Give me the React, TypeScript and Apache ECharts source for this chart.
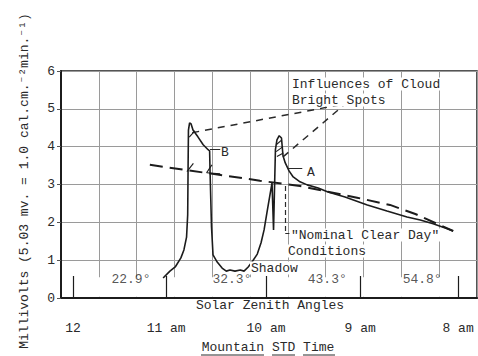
import React, { useEffect, useRef } from "react";
import * as echarts from "echarts";

// ---- axis / tick data ----
const yMin = 0;
const yMax = 6;
const xMin = 0;
const xMax = 11;
const hourLabels = ["12", "11 am", "10 am", "9 am", "8 am"];
const hourPos = [0.32, 2.78, 5.42, 7.91, 10.5];
const zenithLabels = ["22.9°", "32.3°", "43.3°", "54.8°"];
const zenithPos = [1.85, 4.52, 7.04, 9.55];
const zenithLabelY = 0.48;
const labelStripTop = 0.55;

// ---- recorded radiation trace (x in grid units, y in millivolts) ----
const traceX = [
  2.7, 2.88, 3.02, 3.17, 3.25, 3.32, 3.35, 3.36, 3.37, 3.4, 3.44, 3.49, 3.62, 3.76, 3.89, 3.93,
  3.94, 3.98, 4.02, 4.13, 4.26, 4.37, 4.47, 4.6, 4.74, 4.84, 4.95, 5.05, 5.19, 5.29, 5.37, 5.45,
  5.53, 5.58, 5.62, 5.67, 5.71, 5.77, 5.83, 5.87, 5.93, 6.03, 6.14, 6.32, 6.51, 6.8, 7.06, 7.51,
  8.1, 8.62, 9.15, 9.5, 9.84, 10.16, 10.37,
];
const traceY = [
  0.53, 0.71, 0.82, 1.06, 1.27, 1.61, 2.2, 3.39, 4.44, 4.63, 4.6, 4.44, 4.26, 4.05, 3.92, 3.89,
  3.39, 1.88, 1.14, 0.95, 0.79, 0.71, 0.74, 0.71, 0.74, 0.71, 0.82, 0.95, 1.16, 1.46, 1.8, 2.28,
  2.75, 3.04, 1.8, 3.92, 4.18, 4.29, 4.23, 3.76, 3.57, 3.36, 3.2, 3.07, 2.99, 2.91, 2.8, 2.67,
  2.46, 2.3, 2.14, 2.06, 1.96, 1.85, 1.77,
];

// ---- "nominal clear day" reference line ----
const clearX = [2.35, 3.81, 5.26, 6.32, 7.83, 8.7, 9.37, 10.37];
const clearY = [3.52, 3.31, 3.1, 2.96, 2.65, 2.46, 2.22, 1.77];

// ---- pointer lines to "Influences of Cloud Bright Spots" ----
const pointerB = [[3.47, 4.37], [7.51, 5.13]];
const pointerA = [[5.87, 3.73], [7.46, 5.08]];

// ---- leader ticks, hatching and nominal pointer ----
const leaderB = [[3.94, 3.94], [4.21, 3.94]];
const leaderA = [[6.01, 3.44], [6.38, 3.44]];
const nominalPointer = [[5.93, 2.96], [5.93, 1.72]];
const nominalHook = [[5.93, 1.72], [6.04, 1.72]];
const hatchSegments = [
  [[5.69, 4.05], [5.84, 4.18]],
  [[5.69, 3.87], [5.87, 4.0]],
  [[5.71, 3.74], [5.88, 3.83]],
  [[3.39, 4.25], [3.54, 4.42]],
  [[3.33, 3.34], [3.5, 3.56]],
  [[3.85, 3.31], [3.99, 3.52]],
  [[3.85, 3.31], [4.21, 3.28]],
];

const FONT = '"Liberation Mono", "Courier New", monospace';
const INK = "#1c1c1c";
const TEXT = "#2a2a2a";
const GRID = "#9a9a9a";

export default function App() {
  const ref = useRef<HTMLDivElement>(null);

  useEffect(() => {
    document.body.style.margin = "0";
    if (!ref.current) return;
    const chart = echarts.init(ref.current, undefined, { renderer: "svg" });

    const txt = (
      text: string,
      x: number,
      y: number,
      align: string = "left",
      bg: boolean = true,
      extra: any = {}
    ) => ({
      type: "text",
      x,
      y,
      z: 20,
      ...extra,
      style: {
        text,
        font: `13px ${FONT}`,
        fill: TEXT,
        align,
        verticalAlign: "middle",
        backgroundColor: bg ? "#ffffff" : undefined,
        padding: bg ? [0, 1] : 0,
      },
    });
    const uline = (x1: number, x2: number, y: number) => ({
      type: "line",
      z: 20,
      shape: { x1, y1: y, x2, y2: y },
      style: { stroke: TEXT, lineWidth: 1 },
    });

    const segSeries = (name: string, segs: number[][][], style: any, z = 4) => ({
      name,
      type: "lines",
      coordinateSystem: "cartesian2d",
      xAxisIndex: 0,
      yAxisIndex: 0,
      z,
      silent: true,
      lineStyle: style,
      data: segs.map((c) => ({ coords: c })),
    });

    chart.setOption({
      animation: false,
      backgroundColor: "#ffffff",
      grid: {
        left: 61,
        top: 71,
        right: 1,
        bottom: 58,
        show: true,
        borderColor: INK,
        borderWidth: 1.5,
        backgroundColor: "transparent",
      },
      xAxis: [
        {
          type: "value",
          min: xMin,
          max: xMax,
          interval: 1,
          z: 0,
          axisLine: { show: false },
          axisTick: { show: false },
          axisLabel: { show: false },
          splitLine: { show: true, lineStyle: { color: GRID, width: 1 } },
        },
        {
          type: "value",
          position: "bottom",
          min: xMin,
          max: xMax,
          z: 3,
          axisLine: { show: true, lineStyle: { color: INK, width: 2 } },
          axisTick: {
            show: true,
            inside: true,
            length: 22,
            customValues: hourPos,
            lineStyle: { color: INK, width: 1.2 },
          },
          axisLabel: {
            show: true,
            customValues: hourPos,
            margin: 24,
            fontFamily: FONT,
            fontSize: 13,
            color: TEXT,
            formatter: (v: number) => {
              const i = hourPos.findIndex((p) => Math.abs(p - v) < 1e-6);
              return i >= 0 ? hourLabels[i] : "";
            },
          },
          splitLine: { show: false },
        },
      ],
      yAxis: {
        type: "value",
        min: yMin,
        max: yMax,
        interval: 1,
        z: 3,
        axisLine: { show: true, lineStyle: { color: INK, width: 2 } },
        axisTick: { show: true, length: 4, lineStyle: { color: "#555" } },
        axisLabel: { fontFamily: FONT, fontSize: 13, color: TEXT, margin: 6 },
        splitLine: { show: true, lineStyle: { color: GRID, width: 1 } },
      },
      series: [
        {
          name: "strip",
          type: "line",
          data: [],
          z: 1,
          silent: true,
          markArea: {
            silent: true,
            itemStyle: { color: "#ffffff", opacity: 1 },
            data: [[{ coord: [xMin, yMin + 0.03] }, { coord: [xMax - 0.04, labelStripTop] }]],
          },
        },
        {
          name: "Nominal clear day",
          type: "line",
          z: 3,
          symbol: "none",
          data: clearX.map((x, i) => [x, clearY[i]]),
          lineStyle: { color: INK, width: 2, type: [13, 7] },
        },
        {
          name: "Recorded trace",
          type: "line",
          z: 4,
          symbol: "none",
          data: traceX.map((x, i) => [x, traceY[i]]),
          lineStyle: { color: INK, width: 1.6 },
        },
        segSeries("Bright spot pointers", [pointerB, pointerA], { color: "#2a2a2a", width: 1.5, type: [7, 6], opacity: 1 }),
        segSeries("Leaders", [leaderB, leaderA, nominalHook], { color: "#2a2a2a", width: 1.2, opacity: 1 }),
        segSeries("Nominal pointer", [nominalPointer], { color: "#2a2a2a", width: 1.2, type: [5, 3], opacity: 1 }),
        segSeries("Hatching", hatchSegments, { color: INK, width: 1.1, opacity: 1 }),
        {
          name: "Zenith angles",
          type: "scatter",
          z: 5,
          symbolSize: 0,
          silent: true,
          data: zenithPos.map((x) => [x, zenithLabelY]),
          label: {
            show: true,
            position: "inside",
            fontFamily: FONT,
            fontSize: 13,
            color: TEXT,
            formatter: (p: any) => zenithLabels[p.dataIndex],
          },
        },
      ],
      graphic: [
        txt("Millivolts (5.03 mv. = 1.0 cal.cm.⁻²min.⁻¹)", 24, 181, "center", false, {
          rotation: Math.PI / 2,
        }),
        txt("Solar Zenith Angles", 270, 305, "center", false),
        txt("Mountain STD Time", 268, 347, "center", false),
        uline(201, 264, 355),
        uline(272, 295, 355),
        uline(303, 335, 355),
        txt("Influences of Cloud", 291, 84),
        txt("Bright Spots", 291, 100),
        txt('"Nominal Clear Day"', 290, 235),
        txt("Conditions", 287, 251),
        txt("Shadow", 250, 268),
        txt("A", 311, 172, "center", false),
        txt("B", 225, 152, "center", false),
      ],
    });

    return () => chart.dispose();
  }, []);

  return <div ref={ref} style={{ width: 478, height: 356 }} />;
}
